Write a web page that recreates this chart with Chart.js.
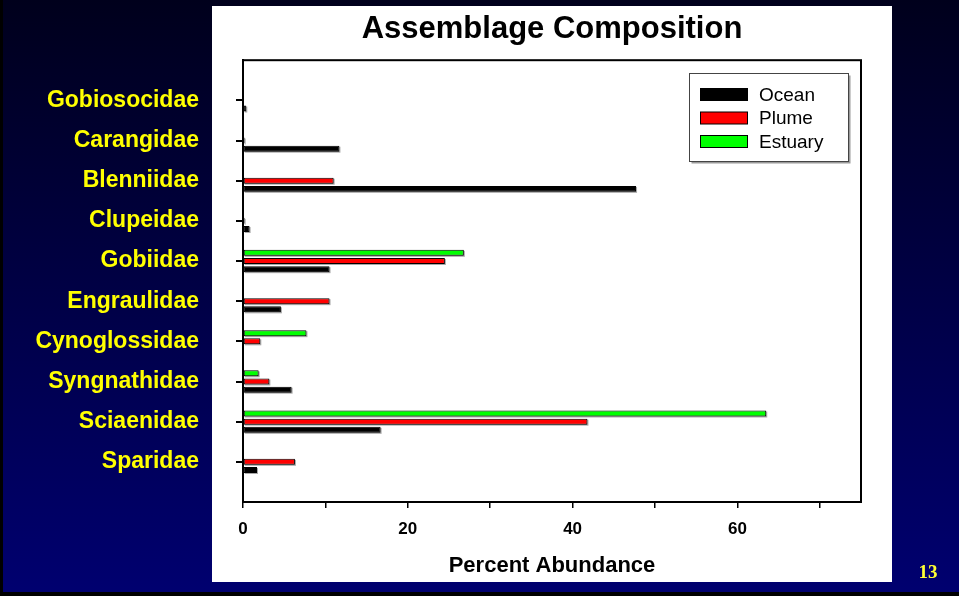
<!DOCTYPE html>
<html>
<head>
<meta charset="utf-8">
<script src="https://cdn.jsdelivr.net/npm/chart.js@4.4.1/dist/chart.umd.min.js"></script>
<style>
    html, body { margin: 0; padding: 0; }
    body { width: 959px; height: 596px; overflow: hidden; position: relative; background: linear-gradient(#00001c, #000070); }
    #panel { position: absolute; left: 212px; top: 6px; width: 680px; height: 576px; background: #fff; }
    #edgeLeft { position: absolute; left: 0; top: 0; width: 3px; height: 596px; background: #000; }
    #edgeBottom { position: absolute; left: 0; top: 592px; width: 959px; height: 4px; background: #000; }
    #chart { position: absolute; left: 0; top: 0; }
    #page { position: absolute; left: 910px; top: 561px; width: 36px; text-align: center; font: bold 19px 'Liberation Serif', 'Times New Roman', serif; color: #ffff33; }
</style>
</head>
<body>
<div id="edgeLeft"></div>
<div id="edgeBottom"></div>
<div id="panel"></div>
<canvas id="chart" width="959" height="596"></canvas>
<div id="page">13</div>
<script>
    // families from top to bottom, percent abundance per habitat
    var categories = ['Gobiosocidae', 'Carangidae', 'Blenniidae', 'Clupeidae', 'Gobiidae', 'Engraulidae', 'Cynoglossidae', 'Syngnathidae', 'Sciaenidae', 'Sparidae'];
    var ocean = [0.4, 11.7, 47.7, 0.8, 10.5, 4.6, 0, 5.9, 16.7, 1.7];
    var plume = [0, 0.2, 11.0, 0.2, 24.5, 10.5, 2.1, 3.2, 41.8, 6.3];
    var estuary = [0, 0, 0, 0, 26.8, 0, 7.7, 1.9, 63.5, 0];
    var xTicks = [0, 10, 20, 30, 40, 50, 60, 70];
    var xMax = 75;

    Chart.defaults.font.family = "'Liberation Sans', Arial, sans-serif";

    function points(values) {
        return values.map(function (v, i) {
            return {x: v, y: i}
        })
    }

    var framePlugin = {
        id: 'frame',
        beforeDatasetsDraw: function (chart) {
            var ctx = chart.ctx
            ctx.save()
            ctx.fillStyle = '#a8a8a8'
            chart.getSortedVisibleDatasetMetas().forEach(function (meta) {
                meta.data.forEach(function (bar) {
                    var w = bar.x - bar.base
                    if (w <= 0) return
                    ctx.fillRect(bar.base + 1, bar.y - bar.height / 2 + 1, w, bar.height)
                })
            })
            ctx.restore()
        },
        afterDraw: function (chart) {
            var ctx = chart.ctx
            var a = chart.chartArea
            ctx.save()
            ctx.strokeStyle = '#000'
            ctx.lineWidth = 2
            ctx.strokeRect(a.left, a.top, a.right - a.left, a.bottom - a.top)

            // legend box
            var bx = 689.5, by = 73.5, bw = 159, bh = 88
            ctx.fillStyle = '#9a9a9a'
            ctx.fillRect(bx + 2, by + 2, bw, bh)
            ctx.fillStyle = '#fff'
            ctx.fillRect(bx, by, bw, bh)
            ctx.lineWidth = 1
            ctx.strokeStyle = '#444'
            ctx.strokeRect(bx, by, bw, bh)

            var sets = chart.data.datasets.slice().reverse()
            var rows = [94.5, 118, 141.5]
            ctx.font = "19px 'Liberation Sans', Arial, sans-serif"
            ctx.textBaseline = 'middle'
            sets.forEach(function (ds, i) {
                ctx.fillStyle = ds.backgroundColor
                ctx.fillRect(700.5, rows[i] - 6, 47, 12)
                ctx.strokeStyle = '#000'
                ctx.strokeRect(700.5, rows[i] - 6, 47, 12)
                ctx.fillStyle = '#000'
                ctx.fillText(ds.label, 759, rows[i] + 1)
            })
            ctx.restore()
        }
    }

    var barStyle = {
        borderWidth: 1,
        borderColor: '#000',
        borderSkipped: false,
        categoryPercentage: 0.61,
        barPercentage: 0.73
    }

    new Chart(document.getElementById('chart'), {
        type: 'bar',
        data: {
            datasets: [
                Object.assign({label: 'Estuary', data: points(estuary), backgroundColor: '#00ff00'}, barStyle),
                Object.assign({label: 'Plume', data: points(plume), backgroundColor: '#ff0000'}, barStyle),
                Object.assign({label: 'Ocean', data: points(ocean), backgroundColor: '#000000'}, barStyle)
            ]
        },
        options: {
            indexAxis: 'y',
            responsive: false,
            animation: false,
            devicePixelRatio: 1,
            layout: {padding: {left: 0, right: 98, top: 0, bottom: 0}},
            plugins: {
                legend: {display: false},
                tooltip: {enabled: false},
                title: {
                    display: true,
                    text: 'Assemblage Composition',
                    fullSize: false,
                    color: '#000',
                    font: {size: 31, weight: 'bold'},
                    padding: {top: 11, bottom: 12}
                }
            },
            scales: {
                x: {
                    type: 'linear',
                    min: 0,
                    max: xMax,
                    afterBuildTicks: function (scale) {
                        scale.ticks = xTicks.map(function (v) { return {value: v} })
                    },
                    afterFit: function (scale) { scale.height = 94 },
                    grid: {drawOnChartArea: false, drawTicks: true, tickLength: 6, color: '#000', lineWidth: 1.5},
                    border: {display: true, color: '#000', width: 2},
                    ticks: {
                        autoSkip: false,
                        maxRotation: 0,
                        color: '#000',
                        padding: 11,
                        font: {size: 17, weight: 'bold'},
                        callback: function (v) { return v % 20 === 0 ? v : '' }
                    },
                    title: {
                        display: true,
                        text: 'Percent Abundance',
                        color: '#000',
                        font: {size: 22, weight: 'bold'},
                        padding: {top: 0, bottom: 17}
                    }
                },
                y: {
                    type: 'linear',
                    reverse: true,
                    offset: false,
                    min: -1,
                    max: 10,
                    afterBuildTicks: function (scale) {
                        scale.ticks = categories.map(function (c, i) { return {value: i} })
                    },
                    afterFit: function (scale) { scale.width = 243 },
                    grid: {offset: false, drawOnChartArea: false, drawTicks: true, tickLength: 7, color: '#000', lineWidth: 2},
                    border: {display: true, color: '#000', width: 2},
                    ticks: {
                        autoSkip: false,
                        color: '#ffff00',
                        padding: 37,
                        font: {size: 23, weight: 'bold'},
                        callback: function (v) { return categories[v] }
                    }
                }
            }
        },
        plugins: [framePlugin]
    })
</script>
</body>
</html>
